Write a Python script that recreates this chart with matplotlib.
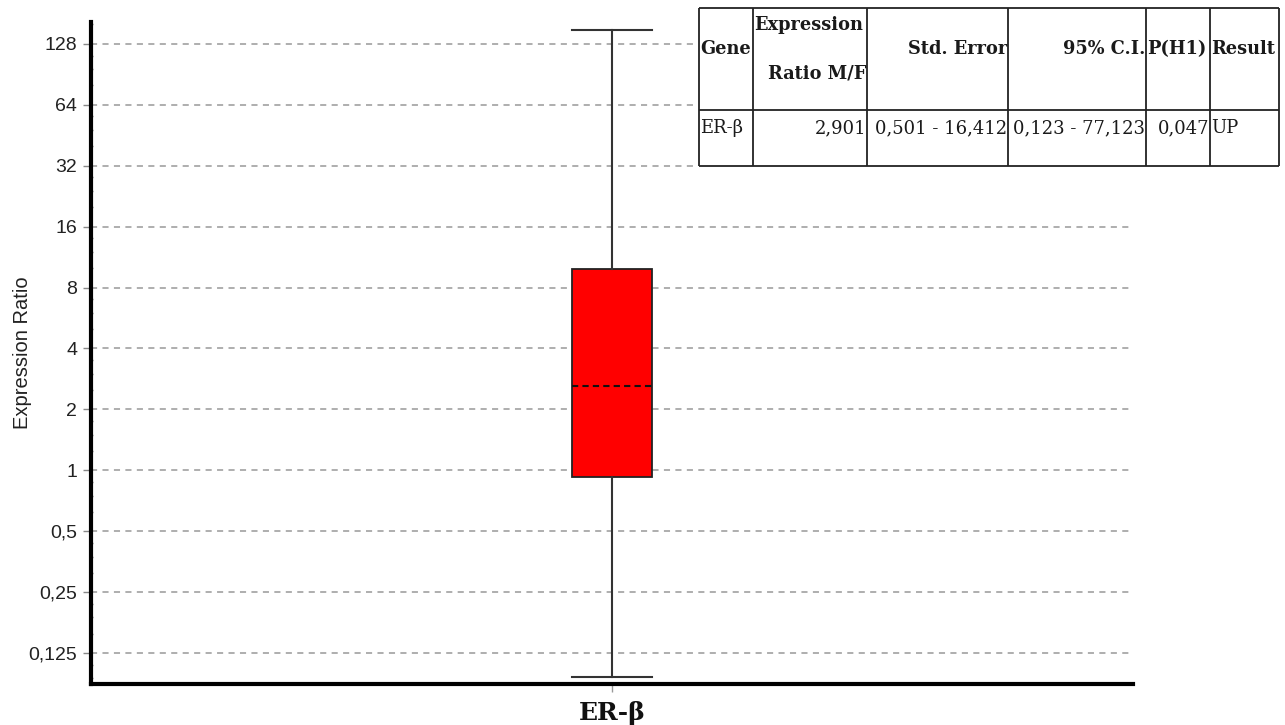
import numpy as np
import matplotlib
matplotlib.use("Agg")
import matplotlib.pyplot as plt
from matplotlib.ticker import FixedLocator, FixedFormatter

######### Data #########
genes = ["ER-β"]
whisker_low = [0.095]
box_low = [0.926]
box_median = [2.6]
box_high = [9.88]
whisker_high = [150]

ytick_values = [0.125, 0.25, 0.5, 1, 2, 4, 8, 16, 32, 64, 128]
ytick_labels = ["0,125", "0,25", "0,5", "1", "2", "4", "8", "16", "32", "64", "128"]

table_header = ["Gene", "Expression\nRatio M/F", "Std. Error", "95% C.I.", "P(H1)", "Result"]
table_row = ["ER-β", "2,901", "0,501 - 16,412", "0,123 - 77,123", "0,047", "UP"]

######### Layout (pixels) #########
W, H = 1285, 725
col_edges = [699, 753, 867, 1008, 1146, 1210, 1279]
row_edges = [8, 110, 166]
header_align = ["left", "right", "right", "right", "left", "left"]
row_align = ["left", "right", "right", "right", "right", "left"]

fig = plt.figure(figsize=(W / 100, H / 100), dpi=100)
ax = fig.add_axes([91 / W, (H - 684) / H, (1133 - 91) / W, (684 - 22) / H])

stats = [dict(label=g, whislo=wl, q1=q1, med=m, q3=q3, whishi=wh, fliers=[])
         for g, wl, q1, m, q3, wh in zip(genes, whisker_low, box_low, box_median,
                                        box_high, whisker_high)]
ax.bxp(stats, positions=[1], widths=0.076, patch_artist=True, showfliers=False,
       boxprops=dict(facecolor="#ff0000", edgecolor="#222222", lw=1.3),
       medianprops=dict(color="#111111", ls=(0, (3, 2)), lw=1.5),
       whiskerprops=dict(color="#333333", lw=1.5),
       capprops=dict(color="#333333", lw=1.5),
       capwidths=0.077)

ax.set_yscale("log", base=2)
ax.set_ylim(0.088, 164)
ax.set_xlim(0.5, 1.5)
ax.yaxis.set_major_locator(FixedLocator(ytick_values))
ax.yaxis.set_major_formatter(FixedFormatter(ytick_labels))
minor = [v * s for v in [0.0625] + ytick_values for s in (1.25, 1.5, 1.75)]
ax.yaxis.set_minor_locator(FixedLocator(minor))
ax.yaxis.set_minor_formatter(FixedFormatter([]))

ax.grid(axis="y", which="major", color="#999999", ls=(0, (4, 3.5)), lw=1.1)
ax.set_axisbelow(True)
for side in ["top", "right"]:
    ax.spines[side].set_visible(False)
for side in ["left", "bottom"]:
    ax.spines[side].set_linewidth(3)
    ax.spines[side].set_color("black")

ax.tick_params(axis="y", which="major", length=6, width=1, color="#888888",
               labelsize=14, labelcolor="#222222", pad=4)
ax.tick_params(axis="y", which="minor", length=3, width=1, color="#888888",
               direction="inout")
ax.tick_params(axis="x", length=6, width=1, color="#999999", pad=6)
for lab in ax.get_yticklabels():
    lab.set_family("Liberation Sans")
ax.set_xticks([1])
ax.set_xticklabels(genes, fontsize=18, fontweight="bold", family="DejaVu Serif",
                   color="#111111")
ax.set_ylabel("Expression Ratio", fontsize=14.5, family="Liberation Sans",
              color="#222222")
ax.yaxis.set_label_coords(-0.057, 0.5)

######### Table #########
tab = fig.add_axes([0, 0, 1, 1], zorder=5)
tab.set_xlim(0, W)
tab.set_ylim(H, 0)
tab.axis("off")
tab.add_patch(plt.Rectangle((col_edges[0] - 2, 0), col_edges[-1] - col_edges[0] + 4,
                            row_edges[-1] + 2, facecolor="white", edgecolor="none"))
tab.hlines(row_edges, col_edges[0], col_edges[-1], color="#222222", lw=1.3)
tab.vlines(col_edges, row_edges[0], row_edges[-1], color="#222222", lw=1.3)

head_font = dict(fontsize=12.8, fontweight="bold", family="DejaVu Serif", color="#1a1a1a")
for i, (txt, al) in enumerate(zip(table_header, header_align)):
    x = col_edges[i] + 1 if al == "left" else col_edges[i + 1] - 1
    if "\n" in txt:
        top, bottom = txt.split("\n")
        tab.text(col_edges[i] + 1, 25, top, ha="left", va="center", **head_font)
        tab.text(x, 73, bottom, ha=al, va="center", **head_font)
    else:
        tab.text(x, 49, txt, ha=al, va="center", **head_font)

for i, (txt, al) in enumerate(zip(table_row, row_align)):
    x = col_edges[i] + 1 if al == "left" else col_edges[i + 1] - 1
    tab.text(x, 128, txt, ha=al, va="center", fontsize=13,
             family="DejaVu Serif", color="#1a1a1a")

fig.savefig("out.png", dpi=100)
